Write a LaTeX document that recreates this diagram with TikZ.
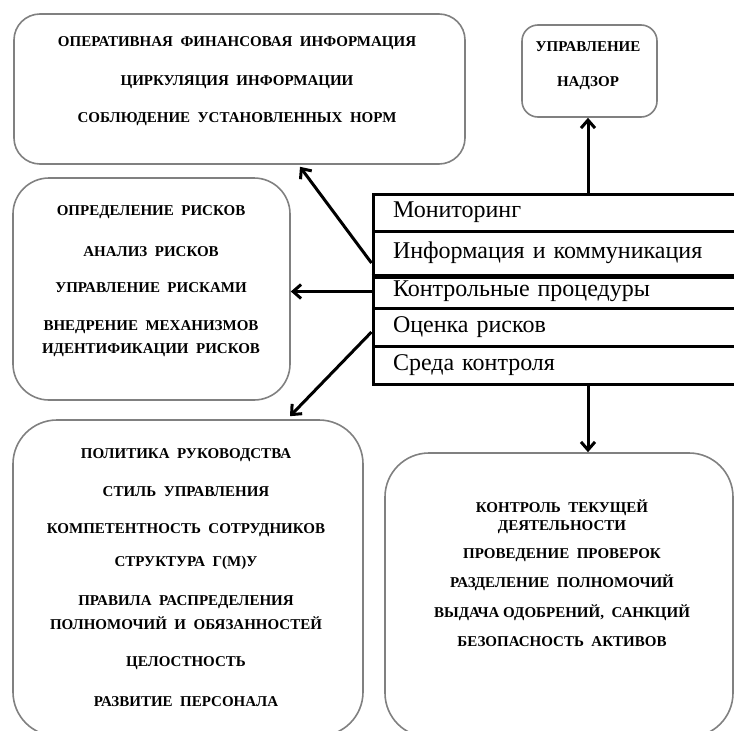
\documentclass[tikz,border=0pt]{standalone}
\usepackage{fontspec}
\setmainfont{Liberation Serif}[BoldFont={Liberation Serif Bold}]
\usetikzlibrary{arrows.meta}
\tikzset{
  box/.style={draw=black!50, line width=1.6pt, inner sep=0pt},
  itm/.style={font=\fontsize{15}{16}\selectfont\bfseries, inner sep=0pt, align=center},
  row/.style={draw=black, line width=3pt, minimum width=364pt, text width=324pt, inner xsep=20pt, inner ysep=0pt, align=left, font=\fontsize{24}{26}\selectfont},
  arr/.style={line width=3pt, -{Straight Barb[length=8pt,width=14pt,line width=3pt]}},
}
\begin{document}
\begin{tikzpicture}[x=1pt,y=-1pt]
\useasboundingbox (0,0) rectangle (734,731);
% boxes
\node[box, rounded corners=26pt, minimum width=451pt, minimum height=150pt] (tl) at (239.5,89) {};
\node[box, rounded corners=16pt, minimum width=135pt, minimum height=92pt] (tr) at (589.5,71) {};
\node[box, rounded corners=36pt, minimum width=277pt, minimum height=222pt] (ml) at (151.5,289) {};
\node[box, rounded corners=44pt, minimum width=350pt, minimum height=316pt] (bl) at (188,578) {};
\node[box, rounded corners=44pt, minimum width=348pt, minimum height=284pt] (br) at (559,595) {};
% stack
\node[row, minimum height=37pt] (r1) at (555,212.5) {Мониторинг};
\node[row, minimum height=44pt] (r2) at (555,253) {Информация и коммуникация};
\node[row, minimum height=33pt] (r3) at (555,291.5) {Контрольные процедуры};
\node[row, minimum height=38pt] (r4) at (555,327) {Оценка рисков};
\node[row, minimum height=38pt] (r5) at (555,365) {Среда контроля};
\draw[line width=4.5pt] (r2.south west) -- (r2.south east);
% texts top-left
\node[itm] (tl1) at (237,43) {ОПЕРАТИВНАЯ~ ФИНАНСОВАЯ~ ИНФОРМАЦИЯ};
\node[itm] (tl2) at (237,82) {ЦИРКУЛЯЦИЯ~ ИНФОРМАЦИИ};
\node[itm] (tl3) at (237,119) {СОБЛЮДЕНИЕ~ УСТАНОВЛЕННЫХ~ НОРМ};
% top-right
\node[itm] (tr1) at (588,47) {УПРАВЛЕНИЕ};
\node[itm] (tr2) at (588,83) {НАДЗОР};
% middle-left
\node[itm] (ml1) at (151,212) {ОПРЕДЕЛЕНИЕ~ РИСКОВ};
\node[itm] (ml2) at (151,252) {АНАЛИЗ~ РИСКОВ};
\node[itm] (ml3) at (151,288) {УПРАВЛЕНИЕ~ РИСКАМИ};
\node[itm] (ml4) at (151,327) {ВНЕДРЕНИЕ~ МЕХАНИЗМОВ};
\node[itm] (ml5) at (151,350) {ИДЕНТИФИКАЦИИ~ РИСКОВ};
% bottom-left
\node[itm] (bl1) at (186,455) {ПОЛИТИКА~ РУКОВОДСТВА};
\node[itm] (bl2) at (186,492) {СТИЛЬ~ УПРАВЛЕНИЯ};
\node[itm] (bl3) at (186,530) {КОМПЕТЕНТНОСТЬ~ СОТРУДНИКОВ};
\node[itm] (bl4) at (186,563) {СТРУКТУРА~ Г(М)У};
\node[itm] (bl5) at (186,602) {ПРАВИЛА~ РАСПРЕДЕЛЕНИЯ};
\node[itm] (bl6) at (186,623) {ПОЛНОМОЧИЙ~ И~ ОБЯЗАННОСТЕЙ};
\node[itm] (bl7) at (186,663) {ЦЕЛОСТНОСТЬ};
\node[itm] (bl8) at (186,702) {РАЗВИТИЕ~ ПЕРСОНАЛА};
% bottom-right
\node[itm] (br1) at (562,508) {КОНТРОЛЬ~ ТЕКУЩЕЙ};
\node[itm] (br2) at (562,527) {ДЕЯТЕЛЬНОСТИ};
\node[itm] (br3) at (562,555) {ПРОВЕДЕНИЕ~ ПРОВЕРОК};
\node[itm] (br4) at (562,583) {РАЗДЕЛЕНИЕ~ ПОЛНОМОЧИЙ};
\node[itm] (br5) at (562,613) {ВЫДАЧА ОДОБРЕНИЙ,~ САНКЦИЙ};
\node[itm] (br6) at (562,642) {БЕЗОПАСНОСТЬ~ АКТИВОВ};
% connectors
\draw[arr] ([yshift=-10pt]r2.west) -- ([xshift=60.5pt,yshift=-2pt]tl.south);
\draw[arr] (r3.west) -- (r3.west -| ml.east);
\draw[arr] ([yshift=-5pt]r4.west) -- ([xshift=102pt,yshift=3pt]bl.north);
\draw[arr] ([xshift=33pt]r1.north) -- ([xshift=33pt]r1.north |- tr.south);
\draw[arr] ([xshift=33pt]r5.south) -- ([xshift=33pt]r5.south |- br.north);
\end{tikzpicture}
\end{document}
